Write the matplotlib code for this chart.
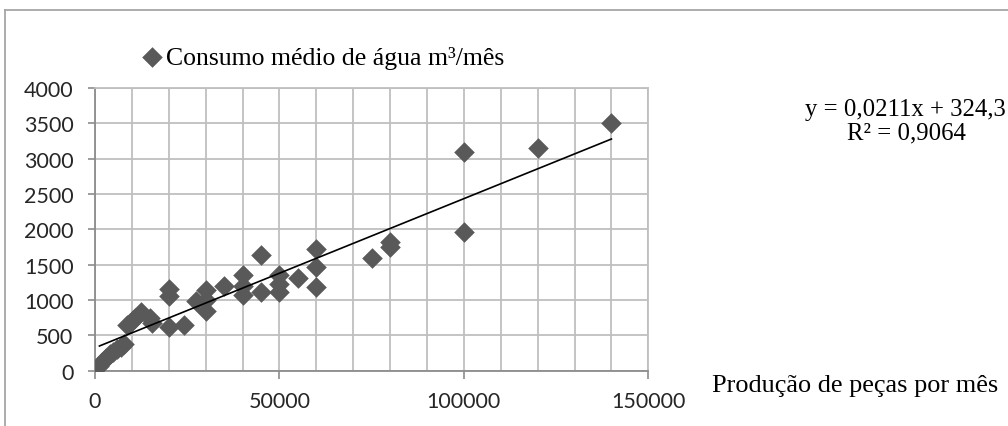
import matplotlib
matplotlib.use("Agg")
import matplotlib.pyplot as plt
from matplotlib.lines import Line2D
from matplotlib.ticker import MultipleLocator

# ---- data ----
producao = [1200, 2000, 3000, 4000, 5000, 6000, 7000, 7800,
            8600, 9400, 10000, 10800, 12500, 15000, 15500,
            20000, 20000, 20000, 24000, 27500, 30000, 30000, 30000,
            35000, 40000, 40000, 40000, 45000, 45000,
            50000, 50000, 50000, 55000, 60000, 60000, 60000,
            75000, 80000, 80000, 100000, 100000, 120000, 140000]
consumo = [60, 120, 180, 230, 270, 310, 340, 380,
           640, 670, 700, 740, 830, 740, 680,
           1150, 1050, 620, 640, 990, 1140, 1000, 850,
           1200, 1350, 1200, 1070, 1630, 1110,
           1350, 1230, 1110, 1310, 1720, 1470, 1190,
           1600, 1820, 1750, 3100, 1960, 3150, 3500]
slope = 0.0211
intercept = 324.3
r2 = "0,9064"
x_ticks = [0, 50000, 100000, 150000]
y_ticks = [0, 500, 1000, 1500, 2000, 2500, 3000, 3500, 4000]

W, H = 1008, 427
fig = plt.figure(figsize=(W / 100, H / 100), dpi=100)
ax = fig.add_axes([95 / W, 1 - 371.7 / H, (648.3 - 95) / W, (371.7 - 89) / H])

grid_c = "#BFBFBF"
axis_c = "#8C8C8C"
mark_c = "#595959"

ax.scatter(producao, consumo, marker="D", s=110, color=mark_c, zorder=3,
           linewidths=0, label="Consumo médio de água m³/mês")
xl = [min(producao), max(producao)]
ax.plot(xl, [slope * v + intercept for v in xl], color="black", lw=1.2, zorder=4)

ax.set_xlim(0, 150000)
ax.set_ylim(0, 4000)
ax.set_xticks(x_ticks)
ax.set_yticks(y_ticks)
ax.xaxis.set_minor_locator(MultipleLocator(10000))
ax.grid(True, which="both", axis="x", color=grid_c, lw=1.3, zorder=0)
ax.grid(True, which="major", axis="y", color=grid_c, lw=1.3, zorder=0)
ax.set_axisbelow(True)
for s in ["top", "right"]:
    ax.spines[s].set_color(grid_c)
    ax.spines[s].set_linewidth(1.3)
for s in ["left", "bottom"]:
    ax.spines[s].set_color(axis_c)
    ax.spines[s].set_linewidth(1.3)

tick_font = dict(family="Lato", size=15.5)
ax.set_xticklabels([str(v) for v in x_ticks], fontdict=tick_font, color="#262626")
ax.set_yticklabels([str(v) for v in y_ticks], fontdict=tick_font, color="#262626")
ax.tick_params(axis="y", which="major", length=5, width=1.2, color=axis_c, pad=10.5)
ax.tick_params(axis="x", which="major", length=5.5, width=1.2, color=axis_c, pad=9)
ax.tick_params(axis="x", which="minor", length=0)

serif = "Liberation Serif"
fsz = 18.5
fig.legend(loc="center left", bbox_to_anchor=(138 / W, 1 - 58 / H), frameon=False,
           prop=dict(family=serif, size=fsz), handletextpad=0.0,
           borderpad=0, borderaxespad=0, handlelength=1.1)

fig.text(905 / W, 1 - 110 / H, "y = 0,0211x + 324,3", family=serif, size=17.8,
         ha="center", va="center")
fig.text(906 / W, 1 - 133 / H, "R² = " + r2, family=serif, size=17.8,
         ha="center", va="center")
fig.text(712 / W, 1 - 386 / H, "Produção de peças por mês", family=serif, size=18.9,
         ha="left", va="center")

# outer chart-area border (partially visible)
fig.add_artist(Line2D([5 / W, 1.0], [1 - 11 / H, 1 - 11 / H], transform=fig.transFigure,
                      color="#A6A6A6", lw=1.3))
fig.add_artist(Line2D([5 / W, 5 / W], [1 - 11 / H, 0], transform=fig.transFigure,
                      color="#A6A6A6", lw=1.3))

fig.savefig("out.png", dpi=100)
